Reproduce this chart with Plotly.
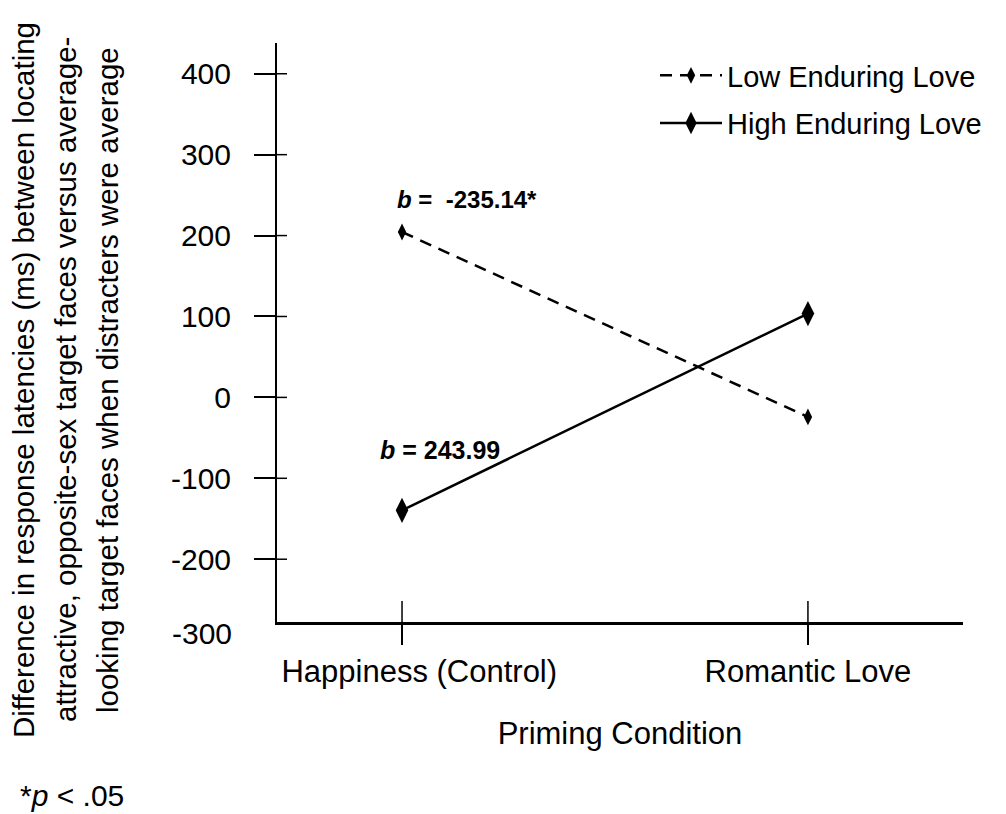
import plotly.graph_objects as go

categories = ["\u00a0\u00a0\u00a0\u00a0Happiness (Control)", "Romantic Love"]
low_love = [204.4, -24.2]
high_love = [-139.6, 103.6]
y_ticks = [400, 300, 200, 100, 0, -100, -200]
y_tick_text = ["400", "300", "200", "100", "0", "-100", "-200"]
y_range = [-277.6, 438]
x_range = [-0.308, 1.382]

FONT = "Liberation Sans, Arial, sans-serif"
FS = 30
x_idx = list(range(len(categories)))

# page body has an 8px margin; compensate
OFF = 8
W, H = 1006 - OFF, 814 - OFF
L, T = 277 - OFF, 43 - OFF
R, B = 43, 192
pw, ph = W - L - R, H - T - B


def px(xp):
    return (xp - OFF - L) / pw


def py(yp):
    return 1 - (yp - OFF - T) / ph


fig = go.Figure()
fig.add_trace(go.Scatter(
    x=x_idx, y=low_love, name="Low Enduring Love", mode="lines+markers",
    legendgroup="a",
    line=dict(color="black", width=2.5, dash="12px,8px"),
    marker=dict(symbol="diamond-tall", size=12, color="black"),
))
fig.add_trace(go.Scatter(
    x=x_idx, y=high_love, name="High Enduring Love", mode="lines+markers",
    legendgroup="b",
    line=dict(color="black", width=2.5),
    marker=dict(symbol="diamond-tall", size=18, color="black"),
))

shapes = []
for v in y_ticks:
    shapes.append(dict(type="line", xref="paper", yref="y", xsizemode="pixel",
                       xanchor=0, x0=0, x1=10, y0=v, y1=v,
                       line=dict(color="black", width=1.5)))
for i in x_idx:
    shapes.append(dict(type="line", xref="x", yref="paper", ysizemode="pixel",
                       yanchor=0, y0=0, y1=21, x0=i, x1=i,
                       line=dict(color="black", width=1.5)))

annotations = [
    dict(text="<b><i>b</i> =  -235.14*</b>", x=px(395), y=244, xref="paper", yref="y",
         xanchor="left", yanchor="middle", showarrow=False,
         font=dict(size=24, family=FONT, color="black")),
    dict(text="<b><i>b</i> = 243.99</b>", x=px(378), y=-65, xref="paper", yref="y",
         xanchor="left", yanchor="middle", showarrow=False,
         font=dict(size=25, family=FONT, color="black")),
    dict(text="-300", x=px(234), y=py(633), xref="paper", yref="paper",
         xanchor="right", yanchor="middle", showarrow=False,
         font=dict(size=FS, family=FONT, color="black")),
    dict(text="*<i>p</i> < .05", x=px(18), y=py(795), xref="paper", yref="paper",
         xanchor="left", yanchor="middle", showarrow=False,
         font=dict(size=FS, family=FONT, color="black")),
]

ylines = ["Difference in response latencies (ms) between locating",
          "attractive, opposite-sex target faces versus average-",
          "looking target faces when distracters were average"]
ypix = [23, 65, 107]
for txt, xp in zip(ylines, ypix):
    annotations.append(dict(text=txt, textangle=-90, x=px(xp), y=py(380),
                            xref="paper", yref="paper", xanchor="center", yanchor="middle",
                            showarrow=False, font=dict(size=29.5, family=FONT, color="black")))

fig.update_layout(
    width=W, height=H,
    margin=dict(l=L, r=R, t=T, b=B),
    paper_bgcolor="white", plot_bgcolor="white",
    font=dict(family=FONT, size=FS, color="black"),
    showlegend=True,
    legend=dict(x=px(655), y=py(50), xanchor="left", yanchor="top",
                bgcolor="rgba(0,0,0,0)", itemwidth=62, tracegroupgap=7,
                traceorder="grouped",
                font=dict(size=29, family=FONT, color="black")),
    shapes=shapes,
    annotations=annotations,
    xaxis=dict(range=x_range, tickmode="array", tickvals=x_idx, ticktext=categories,
               showgrid=False, zeroline=False, showline=True, linecolor="black", linewidth=2.5,
               ticks="outside", ticklen=20, tickwidth=1.5, tickcolor="black",
               tickfont=dict(size=31), ticklabelstandoff=0,
               title=dict(text="Priming Condition", font=dict(size=31), standoff=35)),
    yaxis=dict(range=y_range, tickmode="array", tickvals=y_ticks, ticktext=y_tick_text,
               showgrid=False, zeroline=False, showline=True, linecolor="black", linewidth=2,
               ticks="outside", ticklen=21, tickwidth=1.5, tickcolor="black",
               tickfont=dict(size=FS), ticklabelstandoff=17),
)

fig.write_html("out.html")
